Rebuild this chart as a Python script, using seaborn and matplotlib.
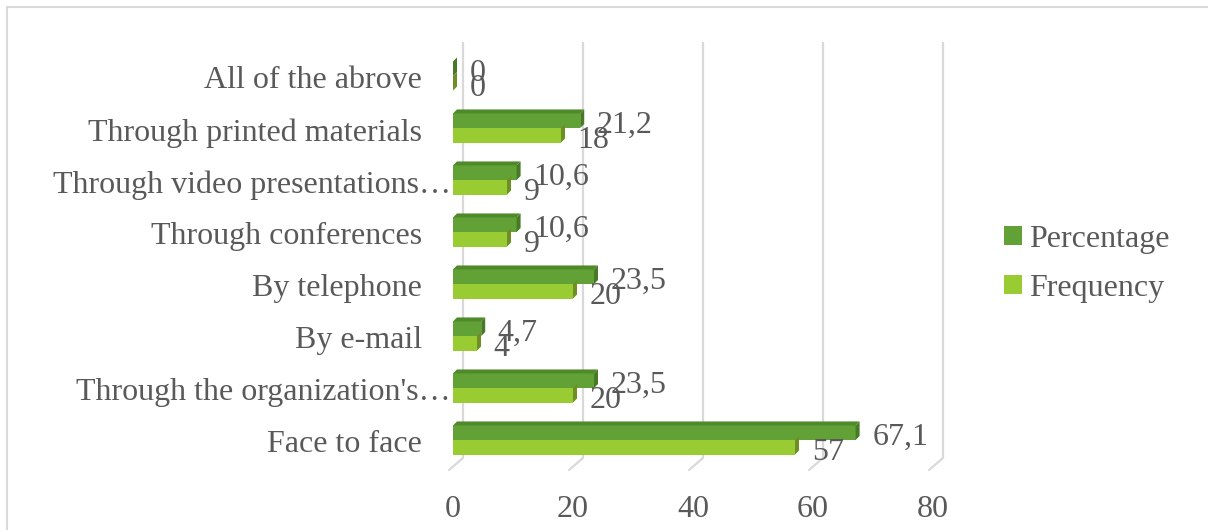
import matplotlib
matplotlib.use("Agg")
import matplotlib.pyplot as plt
from matplotlib.lines import Line2D
from matplotlib.patches import Polygon, Patch
import seaborn as sns
import pandas as pd

# Channels of communication, listed top to bottom
categories = [
    "All of the abrove",
    "Through printed materials",
    "Through video presentations…",
    "Through conferences",
    "By telephone",
    "By e-mail",
    "Through the organization's…",
    "Face to face",
]
percentage = [0, 21.2, 10.6, 10.6, 23.5, 4.7, 23.5, 67.1]
frequency = [0, 18, 9, 9, 20, 4, 20, 57]
series = ["Percentage", "Frequency"]
x_ticks = [0, 20, 40, 60, 80]

TEXT = "#595959"
GRID = "#D9D9D9"
FRONT = {"Percentage": "#62A136", "Frequency": "#99CC33"}
SIDE = {"Percentage": "#467A24", "Frequency": "#6E8F24"}
TOP = "#4F8A2A"
FS = 23

df = pd.DataFrame({
    "Channel": categories * 2,
    "Value": percentage + frequency,
    "Series": [series[0]] * len(categories) + [series[1]] * len(categories),
})

sns.set_theme(style="white")
plt.rcParams["font.family"] = ["Liberation Serif", "DejaVu Serif"]

W, H = 1208, 530
fig = plt.figure(figsize=(W / 100, H / 100), dpi=100)
ax_left, ax_right, ax_top, ax_bottom = 453, 933, 50, 466
ax = fig.add_axes([ax_left / W, (H - ax_bottom) / H,
                   (ax_right - ax_left) / W, (ax_bottom - ax_top) / H])

sns.barplot(data=df, y="Channel", x="Value", hue="Series", order=categories,
            hue_order=series, palette=FRONT, orient="h", width=0.56, gap=0,
            saturation=1, linewidth=0, ax=ax, legend=False, zorder=3)

n = len(categories)
ax.set_xlim(0, 80)
ax.set_ylim(n - 0.5, -0.5)

# pixel -> data conversion factors (axes size is fixed)
xpp = 80 / (ax_right - ax_left)
ypp = n / (ax_bottom - ax_top)

# back-wall gridlines and floor ticks, drawn with a perspective offset
back_dx, back_dy = 10 * xpp, 8 * ypp
for t in x_ticks:
    ax.plot([t + back_dx, t + back_dx],
            [n - 0.5 - back_dy, -0.5 - back_dy],
            color=GRID, lw=1.6, zorder=1, clip_on=False, solid_capstyle="butt")
    ax.plot([t - 4 * xpp, t + back_dx],
            [n - 0.5 + 4 * ypp, n - 0.5 - back_dy],
            color=GRID, lw=1.6, zorder=1, clip_on=False)

# 3-D side and top faces of each bar
dx, dy = 4 * xpp, 4 * ypp
for i, patch in enumerate(ax.patches[: 2 * n]):
    name = series[i // n]
    x0, y0 = patch.get_x(), patch.get_y()
    w, h = patch.get_width(), patch.get_height()
    side = Polygon([(x0 + w, y0), (x0 + w + dx, y0 - dy),
                    (x0 + w + dx, y0 + h - dy), (x0 + w, y0 + h)],
                   closed=True, facecolor=SIDE[name], edgecolor="none",
                   zorder=3, clip_on=False)
    ax.add_patch(side)
    if name == "Percentage":
        top = Polygon([(x0, y0), (x0 + dx, y0 - dy),
                       (x0 + w + dx, y0 - dy), (x0 + w, y0)],
                      closed=True, facecolor=TOP, edgecolor="none",
                      zorder=3, clip_on=False)
        ax.add_patch(top)

# value labels with comma decimal separators
def fmt(v):
    return ("%g" % v).replace(".", ",")

for container, vals in zip(ax.containers, [percentage, frequency]):
    for patch, v in zip(container.patches, vals):
        cy = patch.get_y() + patch.get_height() / 2
        ax.annotate(fmt(v), xy=(v, cy), xytext=(12, -3.5),
                    textcoords="offset points", ha="left", va="center",
                    fontsize=FS, color=TEXT, zorder=5, annotation_clip=False)

# axes styling
for s in ax.spines.values():
    s.set_visible(False)
ax.grid(False)
ax.set_xlabel("")
ax.set_ylabel("")
ax.set_xticks(x_ticks)
ax.set_xticklabels([str(t) for t in x_ticks])
ax.tick_params(axis="x", length=0, pad=21, labelsize=FS, labelcolor=TEXT)
ax.set_yticks(range(n))
ax.set_yticklabels([])
ax.tick_params(axis="y", length=0)

# category labels; truncated ones run up to the axis
for i, lab in enumerate(categories):
    gap = 2 if lab.endswith("…") else 31
    ax.annotate(lab, xy=(0, i), xycoords=("axes fraction", "data"),
                xytext=(-gap * 0.72, -3.5), textcoords="offset points",
                ha="right", va="center", fontsize=FS, color=TEXT,
                annotation_clip=False)

# legend
handles = [Patch(facecolor=FRONT[s], edgecolor="none", label=s) for s in series]
fig.legend(handles=handles, loc="center left",
           bbox_to_anchor=(988 / W, 1 - 264 / H), frameon=False,
           fontsize=FS, labelcolor=TEXT, handlelength=0.55, handleheight=0.55,
           handletextpad=0.25, labelspacing=0.62, borderpad=0)

# chart border (left and top edges)
fig.add_artist(Line2D([7.5 / W, 7.5 / W], [0, 1 - 6.5 / H],
                      transform=fig.transFigure, color=GRID, lw=1.5))
fig.add_artist(Line2D([7.5 / W, 1], [1 - 6.5 / H, 1 - 6.5 / H],
                      transform=fig.transFigure, color=GRID, lw=1.5))

fig.savefig("out.png", dpi=100, facecolor="white")
